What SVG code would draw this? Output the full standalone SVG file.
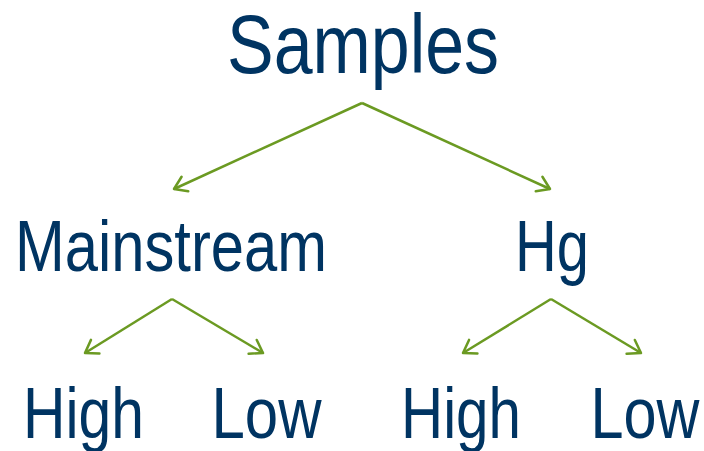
<svg xmlns="http://www.w3.org/2000/svg" width="704" height="451" viewBox="0 0 704 451">
<style>
.t{font-family:"Liberation Sans",Arial,sans-serif;fill:#003462;text-anchor:middle;}
.c{stroke:#6b9a22;stroke-width:2.5;fill:none;}
</style>
<defs>
<marker id="ah" markerUnits="userSpaceOnUse" viewBox="0 0 20 20" refX="18" refY="10" markerWidth="20" markerHeight="20" orient="auto">
<path d="M6,2 L18,10 L6,18" fill="none" stroke="#6b9a22" stroke-width="2.5" stroke-linecap="round" stroke-linejoin="round"/>
</marker>
</defs>
<rect width="704" height="451" fill="#fff"/>
<g id="connectors">
<path class="c" d="M362,103 L174,189" marker-end="url(#ah)"/>
<path class="c" d="M362,103 L550,189" marker-end="url(#ah)"/>
<path class="c" d="M172,299 L85,353" marker-end="url(#ah)"/>
<path class="c" d="M172,299 L263,353" marker-end="url(#ah)"/>
<path class="c" d="M551,299 L463,353" marker-end="url(#ah)"/>
<path class="c" d="M551,299 L641,353" marker-end="url(#ah)"/>
</g>
<g id="samples"><text class="t" x="363" y="73" font-size="84" textLength="272" lengthAdjust="spacingAndGlyphs">Samples</text></g>
<g id="mainstream"><text class="t" x="171" y="271" font-size="72" textLength="312" lengthAdjust="spacingAndGlyphs">Mainstream</text></g>
<g id="hg"><text class="t" x="552" y="271" font-size="72" textLength="74" lengthAdjust="spacingAndGlyphs">Hg</text></g>
<g id="mainstream-high"><text class="t" x="83.5" y="438" font-size="73" textLength="121" lengthAdjust="spacingAndGlyphs">High</text></g>
<g id="mainstream-low"><text class="t" x="266.5" y="438" font-size="73" textLength="110" lengthAdjust="spacingAndGlyphs">Low</text></g>
<g id="hg-high"><text class="t" x="461" y="438" font-size="73" textLength="120" lengthAdjust="spacingAndGlyphs">High</text></g>
<g id="hg-low"><text class="t" x="645" y="438" font-size="73" textLength="109" lengthAdjust="spacingAndGlyphs">Low</text></g>
</svg>
